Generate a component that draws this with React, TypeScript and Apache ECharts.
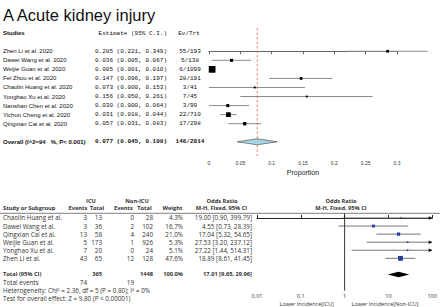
import React, { useEffect, useRef } from "react";
import * as echarts from "echarts";

// ---------- Panel A (top): pooled proportion ----------
const aStudies = [
  "Zhen Li et al. 2020",
  "Dawei Wang et al. 2020",
  "Weijie Guan et al. 2020",
  "Fei Zhou et al. 2020",
  "Chaolin Huang et al. 2020",
  "Yonghao Xu et al. 2020",
  "Nanshan Chen et al. 2020",
  "Yichun Cheng et al. 2020",
  "Qingxian Cai et al. 2020",
];
const aEstimate = [0.285, 0.036, 0.005, 0.147, 0.073, 0.156, 0.03, 0.031, 0.057];
const aLower = [0.221, 0.005, 0.001, 0.096, 0.0, 0.05, 0.0, 0.018, 0.031];
const aUpper = [0.349, 0.067, 0.01, 0.197, 0.153, 0.261, 0.064, 0.044, 0.083];
const aEvents = [55, 5, 6, 28, 3, 7, 3, 22, 17];
const aTotals = [193, 138, 1099, 191, 41, 45, 99, 710, 298];
const aWeight = [4, 5, 24, 4, 2, 2, 5, 12, 6];
const aOverall = [0.077, 0.045, 0.109];
const aOverallLabel = "Overall (I^2=94   %, P< 0.001)";

// ---------- Panel B (bottom): odds ratios ICU vs non-ICU ----------
const bStudies = [
  "Chaolin Huang et al.",
  "Dawei Wang et al.",
  "Qingxian Cai et al.",
  "Weijie Guan et al.",
  "Yonghao Xu et al.",
  "Zhen Li et al.",
];
const bIcuEvents = [3, 3, 13, 5, 7, 43];
const bIcuTotal = [13, 36, 58, 173, 20, 65];
const bNonEvents = [0, 2, 4, 1, 0, 12];
const bNonTotal = [28, 102, 240, 926, 24, 128];
const bWeight = [4.3, 16.7, 21.0, 5.3, 5.1, 47.6];
const bOR = [19.0, 4.55, 17.04, 27.53, 27.22, 18.89];
const bLower = [0.9, 0.73, 5.32, 3.2, 1.44, 8.61];
const bUpper = [399.79, 28.39, 54.65, 237.12, 514.31, 41.45];
const bTotalOR = [17.01, 9.65, 29.96];
const bHeterogeneity = "Heterogeneity: Chi\u00b2 = 2.36, df = 5 (P = 0.80); I\u00b2 = 0%";
const bOverallTest = "Test for overall effect: Z = 9.80 (P < 0.00001)";
const bAxisCaptions = ["Lower Incidence[ICU]", "Lower Incidence[Non-ICU]"];

const SANS = "'Liberation Sans', Arial, sans-serif";
const MONO = "'Liberation Mono', 'Courier New', monospace";
const REV = "'Open Sans', 'DejaVu Sans', sans-serif";

const A_YMIN = -2.57;
const A_YMAX = 11.57;
const B_YMIN = -0.58;
const B_YMAX = 9.01;
const OR_MIN = 0.01;
const OR_MAX = 100;

function txt(
  text: string,
  x: number,
  y: number,
  font: string,
  align: string = "left",
  fill: string = "#111"
): any {
  return {
    type: "text",
    x,
    y,
    silent: true,
    style: {
      text,
      x: 0,
      y: 0,
      font,
      fill,
      align,
      textAlign: align,
      verticalAlign: "middle",
      textVerticalAlign: "middle",
    },
  };
}

const sumArr = (a: number[]) => a.reduce((s, v) => s + v, 0);

export default function App() {
  const ref = useRef<HTMLDivElement>(null);

  useEffect(() => {
    if (!ref.current) return;
    const chart = echarts.init(ref.current, undefined, { renderer: "svg" });

    const R = `6.3px ${REV}`;
    const RB = `bold 5.7px ${REV}`;
    const col = "#333";

    const option: any = {
      animation: false,
      backgroundColor: "#fff",
      grid: [
        { left: 209, top: 28, width: 188, height: 128 },
        { left: 257, top: 213.3, width: 176, height: 77.4 },
      ],
      xAxis: [
        {
          gridIndex: 0,
          type: "value",
          min: 0,
          max: 0.3,
          interval: 0.05,
          splitLine: { show: false },
          axisLine: { lineStyle: { color: "#666", width: 1 } },
          axisTick: { length: 3, lineStyle: { color: "#666" } },
          axisLabel: { fontSize: 5, color: "#333", margin: 4, fontFamily: SANS },
          name: "Proportion",
          nameLocation: "middle",
          nameGap: 13,
          nameTextStyle: { fontSize: 7, color: "#222", fontFamily: SANS },
        },
        {
          gridIndex: 1,
          type: "log",
          logBase: 10,
          min: OR_MIN,
          max: OR_MAX,
          splitLine: { show: false },
          minorTick: { show: false },
          axisLine: { lineStyle: { color: "#222", width: 1 } },
          axisTick: { inside: true, length: 3, lineStyle: { color: "#222" } },
          axisLabel: {
            fontSize: 5.6,
            color: "#333",
            margin: 2,
            fontFamily: REV,
            formatter: (v: number) => String(+Number(v).toPrecision(2)),
          },
        },
      ],
      yAxis: [
        { gridIndex: 0, type: "value", min: A_YMIN, max: A_YMAX, inverse: true, show: false },
        { gridIndex: 1, type: "value", min: B_YMIN, max: B_YMAX, inverse: true, show: false },
      ],
      graphic: [
        txt("A Acute kidney injury", 3, 15, `16.5px ${SANS}`, "left", "#111"),
        txt("Studies", 3, 33, `bold 6px ${SANS}`),
        txt("Estimate (95% C.I.)", 167, 33, `6px ${MONO}`, "right"),
        txt("Ev/Trt", 189, 33, `6px ${MONO}`, "center"),
        txt("ICU", 91, 200.5, RB, "center", col),
        txt("Non-ICU", 137, 200.5, RB, "center", col),
        txt("Odds Ratio", 222, 200.5, RB, "center", col),
        txt("Odds Ratio", 341, 200.5, RB, "center", col),
        txt("Study or Subgroup", 3, 208, RB, "left", col),
        txt("Events", 78, 208, RB, "center", col),
        txt("Total", 97, 208, RB, "center", col),
        txt("Events", 123.5, 208, RB, "center", col),
        txt("Total", 144.5, 208, RB, "center", col),
        txt("Weight", 172.5, 208, RB, "center", col),
        txt("M-H, Fixed, 95% CI", 221.5, 208, RB, "center", col),
        txt("M-H, Fixed, 95% CI", 341, 208, RB, "center", col),
        {
          type: "line",
          silent: true,
          shape: { x1: 0, y1: 213.3, x2: 440, y2: 213.3 },
          style: { stroke: "#999", lineWidth: 1.3 },
        },
        txt(bAxisCaptions[0], 306.7, 303.6, `5.5px ${REV}`, "center", col),
        txt(bAxisCaptions[1], 385, 303.6, `5.5px ${REV}`, "center", col),
      ],
      series: [
        {
          type: "custom",
          xAxisIndex: 0,
          yAxisIndex: 0,
          clip: false,
          data: aStudies.map((_, i) => [aEstimate[i], aLower[i], aUpper[i], i]),
          encode: { x: [0, 1, 2], y: 3 },
          renderItem: (params: any, api: any) => {
            const i = params.dataIndex;
            const c = api.coord([aEstimate[i], i]);
            const l = api.coord([aLower[i], i]);
            const h = api.coord([aUpper[i], i]);
            const y = c[1];
            const s = 1.37 * Math.sqrt(aWeight[i]);
            const est = `${aEstimate[i].toFixed(3)} (${aLower[i].toFixed(3)}, ${aUpper[i].toFixed(3)})`;
            return {
              type: "group",
              children: [
                {
                  type: "line",
                  shape: { x1: l[0], y1: y, x2: h[0], y2: y },
                  style: { stroke: "#8a8a8a", lineWidth: 1 },
                },
                {
                  type: "rect",
                  shape: { x: c[0] - s / 2, y: y - s / 2, width: s, height: s },
                  style: { fill: "#000" },
                },
                txt(aStudies[i], 3, y, `6px ${SANS}`),
                txt(est, 167, y, `6px ${MONO}`, "right"),
                txt(`${aEvents[i]}/${aTotals[i]}`, 190, y, `6px ${MONO}`, "center"),
              ],
            };
          },
        },
        {
          type: "custom",
          xAxisIndex: 0,
          yAxisIndex: 0,
          clip: false,
          data: [[aOverall[0], aOverall[1], aOverall[2], 10]],
          encode: { x: [0, 1, 2], y: 3 },
          renderItem: (_params: any, api: any) => {
            const row = 10;
            const c = api.coord([aOverall[0], row]);
            const l = api.coord([aOverall[1], row]);
            const h = api.coord([aOverall[2], row]);
            const top = api.coord([aOverall[0], A_YMIN]);
            const bot = api.coord([aOverall[0], A_YMAX]);
            const y = c[1];
            const est = `${aOverall[0].toFixed(3)} (${aOverall[1].toFixed(3)}, ${aOverall[2].toFixed(3)})`;
            return {
              type: "group",
              children: [
                {
                  type: "line",
                  shape: { x1: top[0], y1: top[1], x2: bot[0], y2: bot[1] },
                  style: { stroke: "#e8674f", lineWidth: 0.8, lineDash: [2.5, 2] },
                },
                {
                  type: "polygon",
                  shape: {
                    points: [
                      [l[0], y],
                      [c[0], y - 3],
                      [h[0], y],
                      [c[0], y + 3],
                    ],
                  },
                  style: { fill: "#a6d6e6", stroke: "#555", lineWidth: 0.7 },
                },
                txt(aOverallLabel, 3, y, `bold 6px ${SANS}`),
                txt(est, 167, y, `bold 6px ${MONO}`, "right"),
                txt(`${sumArr(aEvents)}/${sumArr(aTotals)}`, 190, y, `bold 6px ${MONO}`, "center"),
              ],
            };
          },
        },
        {
          type: "custom",
          xAxisIndex: 1,
          yAxisIndex: 1,
          clip: false,
          data: bStudies.map((_, i) => [bOR[i], bLower[i], Math.min(bUpper[i], OR_MAX), i]),
          encode: { x: [0, 1, 2], y: 3 },
          renderItem: (params: any, api: any) => {
            const i = params.dataIndex;
            const c = api.coord([bOR[i], i]);
            const l = api.coord([Math.max(bLower[i], OR_MIN), i]);
            const h = api.coord([Math.min(bUpper[i], OR_MAX), i]);
            const y = c[1];
            const s = Math.max(1.5, 0.7 * Math.sqrt(bWeight[i]));
            const children: any[] = [
              {
                type: "line",
                shape: { x1: l[0], y1: y, x2: h[0], y2: y },
                style: { stroke: "#666", lineWidth: 0.9 },
              },
              {
                type: "rect",
                shape: { x: c[0] - s / 2, y: y - s / 2, width: s, height: s },
                style: { fill: "#1f3c9c" },
              },
            ];
            if (bUpper[i] > OR_MAX) {
              children.push({
                type: "polygon",
                shape: {
                  points: [
                    [h[0], y],
                    [h[0] - 3.5, y - 1.8],
                    [h[0] - 3.5, y + 1.8],
                  ],
                },
                style: { fill: "#000" },
              });
            }
            children.push(
              txt(bStudies[i], 3, y, R, "left", col),
              txt(String(bIcuEvents[i]), 87, y, R, "right", col),
              txt(String(bIcuTotal[i]), 102, y, R, "right", col),
              txt(String(bNonEvents[i]), 134, y, R, "right", col),
              txt(String(bNonTotal[i]), 153, y, R, "right", col),
              txt(`${bWeight[i].toFixed(1)}%`, 183, y, R, "right", col),
              txt(
                `${bOR[i].toFixed(2)} [${bLower[i].toFixed(2)}, ${bUpper[i].toFixed(2)}]`,
                252,
                y,
                R,
                "right",
                col
              )
            );
            return { type: "group", children };
          },
        },
        {
          type: "custom",
          xAxisIndex: 1,
          yAxisIndex: 1,
          clip: false,
          data: [[bTotalOR[0], bTotalOR[1], bTotalOR[2], 7]],
          encode: { x: [0, 1, 2], y: 3 },
          renderItem: (_params: any, api: any) => {
            const row = 7;
            const c = api.coord([bTotalOR[0], row]);
            const l = api.coord([bTotalOR[1], row]);
            const h = api.coord([bTotalOR[2], row]);
            const top = api.coord([1, B_YMIN]);
            const bot = api.coord([1, B_YMAX]);
            const y = c[1];
            const yEv = api.coord([1, 8])[1];
            const yHet = api.coord([1, 9])[1];
            const yTest = api.coord([1, 10])[1];
            const wSum = sumArr(bWeight);
            return {
              type: "group",
              children: [
                {
                  type: "line",
                  shape: { x1: top[0], y1: top[1], x2: bot[0], y2: bot[1] },
                  style: { stroke: "#222", lineWidth: 0.9 },
                },
                {
                  type: "polygon",
                  shape: {
                    points: [
                      [l[0], y],
                      [c[0], y - 2.8],
                      [h[0], y],
                      [c[0], y + 2.8],
                    ],
                  },
                  style: { fill: "#000" },
                },
                txt("Total (95% CI)", 3, y, RB, "left", col),
                txt(String(sumArr(bIcuTotal)), 102, y, RB, "right", col),
                txt(String(sumArr(bNonTotal)), 153, y, RB, "right", col),
                txt(`${wSum.toFixed(1)}%`, 183, y, RB, "right", col),
                txt(
                  `${bTotalOR[0].toFixed(2)} [${bTotalOR[1].toFixed(2)}, ${bTotalOR[2].toFixed(2)}]`,
                  252,
                  y,
                  RB,
                  "right",
                  col
                ),
                txt("Total events", 3, yEv, R, "left", col),
                txt(String(sumArr(bIcuEvents)), 87, yEv, R, "right", col),
                txt(String(sumArr(bNonEvents)), 134, yEv, R, "right", col),
                txt(bHeterogeneity, 3, yHet, R, "left", col),
                txt(bOverallTest, 3, yTest, R, "left", col),
              ],
            };
          },
        },
      ],
    };

    chart.setOption(option);
    return () => {
      chart.dispose();
    };
  }, []);

  return (
    <div
      ref={ref}
      style={{ position: "fixed", left: 0, top: 0, width: 440, height: 307, background: "#fff" }}
    />
  );
}
